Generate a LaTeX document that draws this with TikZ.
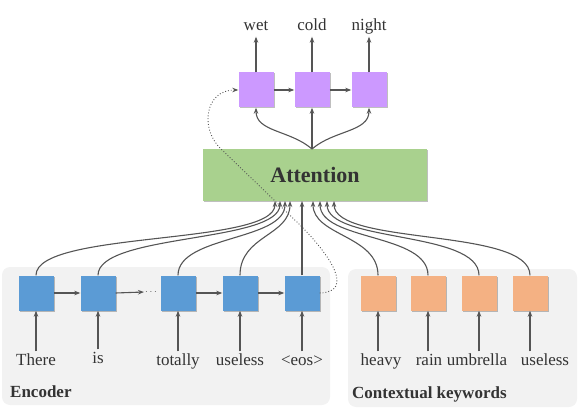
\documentclass[tikz,border=0pt]{standalone}
\usepackage{fontspec}
\setmainfont{Liberation Serif}
\usetikzlibrary{arrows.meta,shadows}
\definecolor{cblue}{HTML}{5B9BD5}
\definecolor{corange}{HTML}{F4B183}
\definecolor{cpurple}{HTML}{CC99FF}
\definecolor{cgreen}{HTML}{A9D18E}
\definecolor{cpanel}{HTML}{F2F2F2}
\definecolor{linec}{HTML}{555555}
\definecolor{textc}{HTML}{333333}
\begin{document}
\begin{tikzpicture}[x=1pt,y=-1pt,
  line/.style={draw=linec, line width=1.1pt},
  arr/.style={line, -{Stealth[length=6pt,width=4.5pt]}},
  dotarr/.style={draw=linec, line width=0.9pt, dotted, -{Stealth[length=6pt,width=4.5pt]}},
  cell/.style={minimum width=35pt, minimum height=35pt, inner sep=0pt,
    drop shadow={shadow xshift=1pt, shadow yshift=-1pt, opacity=0.25, fill=black}},
  word/.style={font=\fontsize{17}{17}\selectfont, text=textc, text height=11.5pt, text depth=3.5pt, inner sep=2pt, anchor=base},
  panel/.style={fill=cpanel, rounded corners=8pt, draw=none},
  title/.style={font=\fontsize{17}{17}\selectfont\bfseries, text=textc, anchor=base west, inner sep=0pt}
]
\useasboundingbox (0,0) rectangle (585,419);
% panels
\path[panel] (2,267) rectangle (330,405);
\path[panel] (348,269) rectangle (577,407);
\node[title] (enc) at (10,397) {Encoder};
\node[title] (ctx) at (352,398) {Contextual keywords};

% attention
\node[fill=cgreen, minimum width=224pt, minimum height=52pt, inner sep=0pt,
  drop shadow={shadow xshift=1pt, shadow yshift=-1pt, opacity=0.25, fill=black},
  font=\fontsize{22}{22}\selectfont\bfseries, text=textc] (att) at (315,175) {Attention};

% decoder cells
\node[cell, fill=cpurple] (p1) at (256,90) {};
\node[cell, fill=cpurple] (p2) at (312,90) {};
\node[cell, fill=cpurple] (p3) at (369,90) {};
\node[word] (w1) at (256,31) {wet};
\node[word] (w2) at (312,31) {cold};
\node[word] (w3) at (369,31) {night};
\draw[arr] (p1.north) -- (w1.south);
\draw[arr] (p2.north) -- (w2.south);
\draw[arr] (p3.north) -- (w3.south);
\draw[arr] (p1.east) -- (p2.west);
\draw[arr] (p2.east) -- (p3.west);
\coordinate (ao) at (312,149);
\draw[arr] (ao) -- (p2.south);
\draw[arr] (ao) .. controls (290,130) and (256,132) .. (p1.south);
\draw[arr] (ao) .. controls (334,130) and (369,132) .. (p3.south);

% encoder cells
\node[cell, fill=cblue] (e1) at (36,293) {};
\node[cell, fill=cblue] (e2) at (98,293) {};
\node[cell, fill=cblue] (e3) at (178,293) {};
\node[cell, fill=cblue] (e4) at (240,293) {};
\node[cell, fill=cblue] (e5) at (302,293) {};
\node[text=linec, inner sep=1pt, font=\fontsize{10}{10}\selectfont] (dots) at (151,292) {$\cdots$};
\draw[arr] (e1.east) -- (e2.west);
\draw[arr] (e2.east) -- (dots.west);
\draw[arr] (e3.east) -- (e4.west);
\draw[arr] (e4.east) -- (e5.west);

\node[word] (t1) at (36,365) {There};
\node[word] (t2) at (98,363) {is};
\node[word] (t3) at (178,365) {totally};
\node[word] (t4) at (240,365) {useless};
\node[word] (t5) at (302,365) {<eos>};
\foreach \i in {1,...,5}{\draw[arr] (t\i.north) -- (e\i.south);}

% keyword cells
\node[cell, fill=corange] (k1) at (378,293) {};
\node[cell, fill=corange] (k2) at (428,293) {};
\node[cell, fill=corange] (k3) at (479,293) {};
\node[cell, fill=corange] (k4) at (530,293) {};
\node[word] (c1) at (381,365) {heavy};
\node[word] (c2) at (429,365) {rain};
\node[word] (c3) at (477,365) {umbrella};
\node[word] (c4) at (545,365) {useless};
\draw[arr] (c1.north -| k1) -- (k1.south);
\draw[arr] (c2.north -| k2) -- (k2.south);
\draw[arr] (c3.north -| k3) -- (k3.south);
\draw[arr] (c4.north -| k4) -- (k4.south);

% inputs to attention
\coordinate (i1) at (275,201);
\coordinate (i2) at (280,201);
\coordinate (i3) at (285,201);
\coordinate (i4) at (290,201);
\coordinate (i5) at (302,201);
\coordinate (j1) at (313,201);
\coordinate (j2) at (320,201);
\coordinate (j3) at (327,201);
\coordinate (j4) at (334,201);
\draw[arr] (e1.north) .. controls +(0,-45) and +(0,45) .. (i1);
\draw[arr] (e2.north) .. controls +(0,-42) and +(0,42) .. (i2);
\draw[arr] (e3.north) .. controls +(0,-40) and +(0,40) .. (i3);
\draw[arr] (e4.north) .. controls +(0,-40) and +(0,35) .. (i4);
\draw[arr] (e5.north) -- (i5);
\draw[arr] (k1.north) .. controls +(0,-40) and +(0,35) .. (j1);
\draw[arr] (k2.north) .. controls +(0,-42) and +(0,40) .. (j2);
\draw[arr] (k3.north) .. controls +(0,-45) and +(0,42) .. (j3);
\draw[arr] (k4.north) .. controls +(0,-48) and +(0,45) .. (j4);

% dotted feedback
\coordinate (d1) at (300,225);
\coordinate (d2) at (220,148);
\draw[dotarr] (e5.east) .. controls (355,292) and (330,255) .. (d1) -- (d2)
  .. controls (200,128) and (205,90) .. (p1.west);
\end{tikzpicture}
\end{document}
